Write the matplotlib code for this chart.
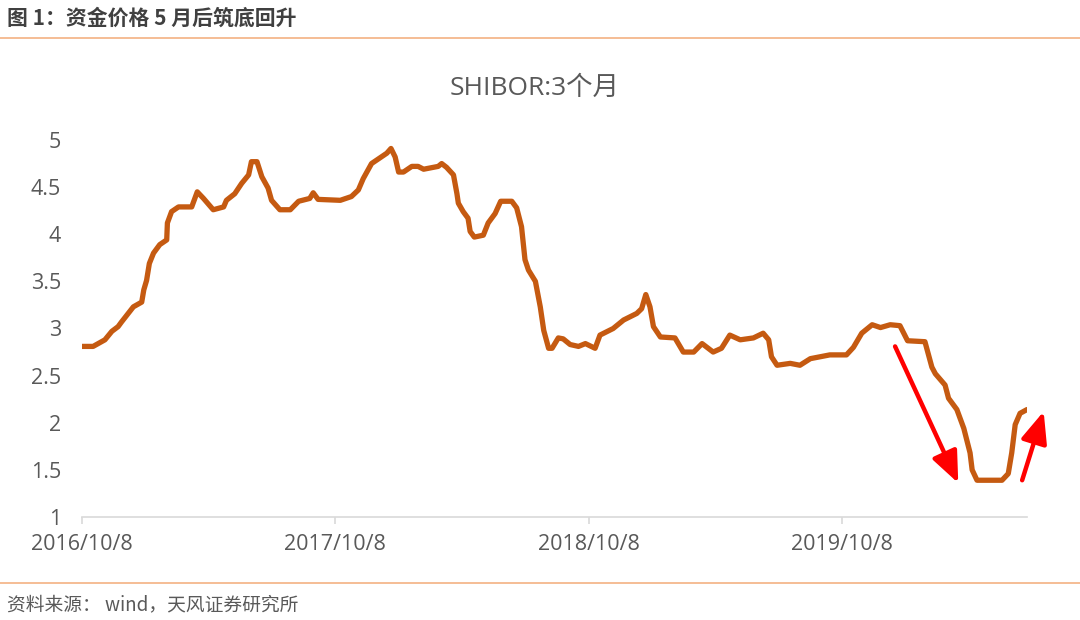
import matplotlib
matplotlib.use("Agg")
import matplotlib.pyplot as plt
from matplotlib.lines import Line2D
import pandas as pd

plt.rcParams['font.family'] = ['Open Sans', 'Noto Sans CJK SC', 'DejaVu Sans']

# SHIBOR 3M
dates = [
    "2016-10-08", "2016-10-24", "2016-11-10", "2016-11-20", "2016-11-29", "2016-12-04",
    "2016-12-21", "2017-01-02", "2017-01-05", "2017-01-09", "2017-01-13", "2017-01-19",
    "2017-01-28", "2017-02-07", "2017-02-08", "2017-02-14", "2017-02-24", "2017-03-15",
    "2017-03-23", "2017-04-01", "2017-04-15", "2017-04-30", "2017-05-04", "2017-05-16",
    "2017-05-26", "2017-06-05", "2017-06-09", "2017-06-17", "2017-06-24", "2017-07-03",
    "2017-07-08", "2017-07-20", "2017-08-04", "2017-08-16", "2017-09-01", "2017-09-06",
    "2017-09-13", "2017-10-15", "2017-10-31", "2017-11-10", "2017-11-17", "2017-11-29",
    "2017-12-11", "2017-12-21", "2017-12-27", "2018-01-02", "2018-01-07", "2018-01-14",
    "2018-01-26", "2018-02-04", "2018-02-12", "2018-03-05", "2018-03-10", "2018-03-17",
    "2018-03-27", "2018-04-01", "2018-04-03", "2018-04-10", "2018-04-17", "2018-04-20",
    "2018-04-26", "2018-05-09", "2018-05-16", "2018-05-26", "2018-06-03", "2018-06-19",
    "2018-06-26", "2018-07-03", "2018-07-08", "2018-07-13", "2018-07-23", "2018-07-30",
    "2018-08-04", "2018-08-11", "2018-08-16", "2018-08-25", "2018-09-01", "2018-09-11",
    "2018-09-23", "2018-10-03", "2018-10-17", "2018-10-24", "2018-11-12", "2018-11-27",
    "2018-12-16", "2018-12-23", "2018-12-29", "2019-01-04", "2019-01-09", "2019-01-19",
    "2019-02-09", "2019-02-21", "2019-03-08", "2019-03-20", "2019-04-05", "2019-04-17",
    "2019-04-29", "2019-05-14", "2019-06-02", "2019-06-16", "2019-06-24", "2019-06-28",
    "2019-07-06", "2019-07-25", "2019-08-08", "2019-08-23", "2019-09-20", "2019-10-14",
    "2019-10-24", "2019-11-05", "2019-11-20", "2019-12-02", "2019-12-16", "2019-12-30",
    "2020-01-10", "2020-02-04", "2020-02-14", "2020-02-19", "2020-03-04", "2020-03-09",
    "2020-03-21", "2020-03-31", "2020-04-09", "2020-04-12", "2020-04-19", "2020-05-25",
    "2020-06-03", "2020-06-08", "2020-06-13", "2020-06-20", "2020-06-30",
]
shibor = [
    2.81, 2.81, 2.88, 2.97, 3.02, 3.07,
    3.23, 3.28, 3.41, 3.51, 3.69, 3.80,
    3.89, 3.94, 4.12, 4.24, 4.29, 4.29,
    4.45, 4.38, 4.26, 4.29, 4.36, 4.43,
    4.54, 4.63, 4.77, 4.77, 4.61, 4.49,
    4.36, 4.26, 4.26, 4.35, 4.38, 4.44,
    4.37, 4.36, 4.40, 4.47, 4.59, 4.75,
    4.81, 4.86, 4.91, 4.82, 4.66, 4.66,
    4.72, 4.72, 4.69, 4.72, 4.75, 4.71,
    4.63, 4.43, 4.33, 4.24, 4.17, 4.03,
    3.97, 3.99, 4.12, 4.22, 4.35, 4.35,
    4.28, 4.08, 3.73, 3.62, 3.50, 3.23,
    2.98, 2.79, 2.79, 2.90, 2.89, 2.83,
    2.81, 2.84, 2.79, 2.93, 3.00, 3.09,
    3.16, 3.21, 3.36, 3.23, 3.02, 2.91,
    2.90, 2.75, 2.75, 2.84, 2.75, 2.79,
    2.93, 2.88, 2.90, 2.95, 2.88, 2.70,
    2.61, 2.63, 2.61, 2.68, 2.72, 2.72,
    2.80, 2.95, 3.04, 3.01, 3.04, 3.03,
    2.87, 2.86, 2.59, 2.52, 2.40, 2.26,
    2.14, 1.94, 1.68, 1.50, 1.39, 1.39,
    1.46, 1.68, 1.98, 2.10, 2.14,
]
tick_dates = ["2016-10-08", "2017-10-08", "2018-10-08", "2019-10-08"]
tick_labels = ["2016/10/8", "2017/10/8", "2018/10/8", "2019/10/8"]
y_ticks = [1, 1.5, 2, 2.5, 3, 3.5, 4, 4.5, 5]
y_labels = ["1", "1.5", "2", "2.5", "3", "3.5", "4", "4.5", "5"]

# red arrows: (start date, start value, end date, end value)
arrows = [
    ("2019-12-23", 2.81, "2020-03-23", 1.36),
    ("2020-06-23", 1.39, "2020-07-24", 2.12),
]

x = pd.to_datetime(dates)
grey = "#595959"

fig = plt.figure(figsize=(10.8, 6.2), dpi=100)
ax = fig.add_axes([82 / 1080, 103 / 620, 945 / 1080, 377 / 620])

ax.plot(x, shibor, color="#C55A11", lw=3.8, solid_joinstyle="round", solid_capstyle="round")

for a in arrows:
    ax.annotate("", xy=(pd.Timestamp(a[2]), a[3]), xytext=(pd.Timestamp(a[0]), a[1]),
                annotation_clip=False,
                arrowprops=dict(arrowstyle="-|>,head_length=0.95,head_width=0.4",
                                color="#FF0000", lw=3.2, mutation_scale=20,
                                shrinkA=0, shrinkB=0))

ax.set_xlim(x[0], x[-1])
ax.set_ylim(1, 5)
ax.set_yticks(y_ticks)
ax.set_yticklabels(y_labels)
ax.set_xticks(pd.to_datetime(tick_dates))
ax.set_xticklabels(tick_labels)

for s in ["top", "right", "left"]:
    ax.spines[s].set_visible(False)
ax.spines["bottom"].set_color("#D9D9D9")
ax.spines["bottom"].set_linewidth(1.2)
ax.tick_params(axis="y", length=0, pad=15, labelsize=15.5, labelcolor=grey)
ax.tick_params(axis="x", length=5, width=1.2, color="#D9D9D9", pad=7,
               labelsize=15.5, labelcolor=grey)

fig.text(535 / 1080, 1 - 88 / 620, "SHIBOR:3个月", ha="center", va="center",
         fontsize=19, color=grey)

# header, footer and the two orange rules
fig.text(7 / 1080, 1 - 18 / 620, "图 1：资金价格 5 月后筑底回升", ha="left", va="center",
         fontsize=15, fontweight="bold", color="#404040",
         family=["Noto Sans CJK SC", "DejaVu Sans"])
fig.text(7 / 1080, 1 - 605 / 620, "资料来源： wind，天风证券研究所", ha="left", va="center",
         fontsize=13.5, color=grey, family=["Noto Sans CJK SC", "DejaVu Sans"])
fig.add_artist(Line2D([0, 1], [1 - 37.5 / 620] * 2, color="#F4B183", lw=1.2))
fig.add_artist(Line2D([0, 1], [1 - 582.5 / 620] * 2, color="#F4B183", lw=1.2))

fig.savefig("out.png", dpi=100)
plt.close("all")
